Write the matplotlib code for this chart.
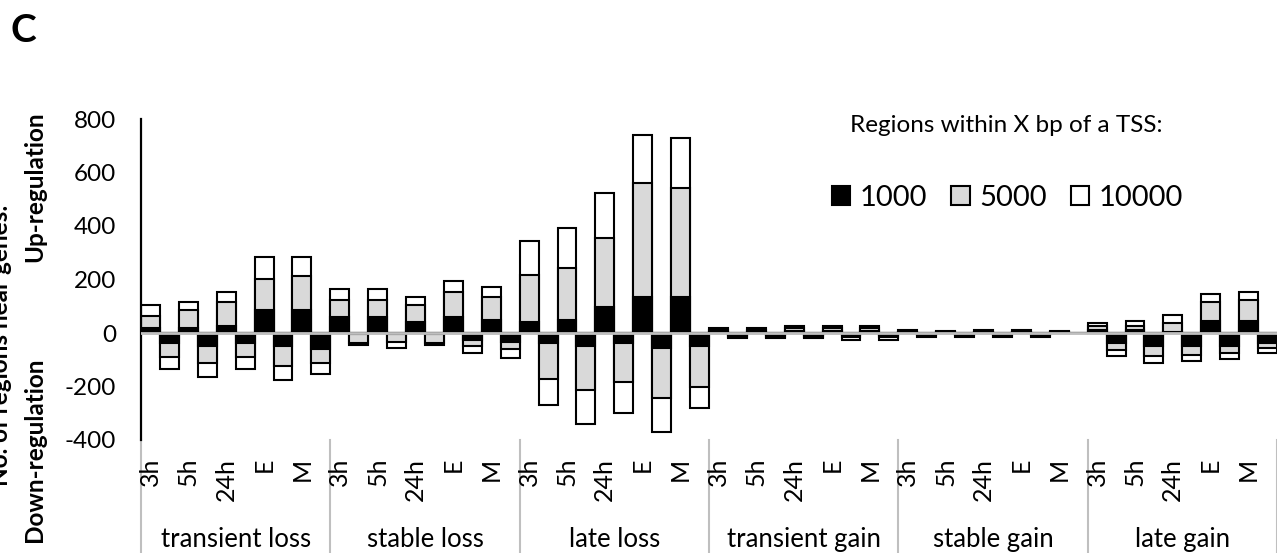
import matplotlib
matplotlib.use("Agg")
import matplotlib.pyplot as plt
import numpy as np

plt.rcParams['font.family'] = ['Lato', 'DejaVu Sans']

groups = ["transient loss", "stable loss", "late loss",
          "transient gain", "stable gain", "late gain"]
timepoints = ["3h", "5h", "24h", "E", "M"]

# regions within 1000 / 5000 / 10000 bp of a TSS, per group x timepoint
up_1000 = [17, 17, 27, 87, 87,
           58, 58, 40, 58, 50,
           40, 48, 98, 136, 136,
           4, 4, 8, 8, 8,
           2, 2, 2, 2, 2,
           12, 12, 5, 46, 46]
up_5000 = [64, 86, 115, 203, 214,
           124, 124, 104, 152, 134,
           216, 242, 354, 560, 542,
           10, 10, 18, 18, 18,
           5, 5, 5, 5, 5,
           25, 25, 37, 115, 124]
up_10000 = [106, 116, 155, 285, 285,
            165, 165, 135, 195, 173,
            343, 393, 522, 741, 729,
            18, 18, 28, 28, 28,
            10, 9, 10, 10, 9,
            37, 46, 68, 146, 155]
down_1000 = [37, 47, 37, 47, 58,
             2, 2, 2, 25, 33,
             37, 47, 37, 56, 47,
             8, 8, 8, 8, 8,
             3, 3, 3, 3, 0,
             37, 47, 47, 47, 37]
down_5000 = [91, 114, 91, 124, 114,
             37, 33, 37, 48, 58,
             171, 213, 184, 242, 201,
             14, 14, 14, 16, 16,
             8, 8, 8, 8, 0,
             62, 87, 84, 73, 55]
down_10000 = [134, 164, 134, 175, 155,
              46, 56, 46, 74, 93,
              270, 341, 300, 370, 282,
              18, 18, 18, 28, 28,
              15, 15, 15, 15, 0,
              87, 112, 104, 96, 75]

yticks = [-400, -200, 0, 200, 400, 600, 800]

W, H = 1277, 553
fig = plt.figure(figsize=(W / 100, H / 100), dpi=100)
ax = fig.add_axes([141 / W, 1 - 440 / H, 1 - 141 / W, 321 / H])

n = len(groups) * len(timepoints)
x = np.arange(n)
gray = '#d9d9d9'
bar_kw = dict(width=0.5, align='edge', edgecolor='black', linewidth=1.5)

# up bars on the left half of each slot, down bars on the right half
b10 = ax.bar(x - 0.5, up_10000, color='white', **bar_kw)
b5 = ax.bar(x - 0.5, up_5000, color=gray, **bar_kw)
b1 = ax.bar(x - 0.5, up_1000, color='black', **bar_kw)
ax.bar(x, -np.array(down_10000), color='white', **bar_kw)
ax.bar(x, -np.array(down_5000), color=gray, **bar_kw)
ax.bar(x, -np.array(down_1000), color='black', **bar_kw)

ax.axhline(0, color='#bfbfbf', linewidth=2.0, zorder=5)

ax.set_xlim(-0.5, n - 0.5)
ax.set_ylim(-400, 800)
ax.set_yticks(yticks)
ax.set_yticklabels([str(v) for v in yticks], fontsize=17.5)
ax.tick_params(axis='y', length=0, pad=18)
ax.set_xticks([])
for side in ['top', 'right', 'bottom']:
    ax.spines[side].set_visible(False)
ax.spines['left'].set_linewidth(1.6)

# two-level category axis: timepoints then group names
trans = ax.get_xaxis_transform()
for i in range(n):
    ax.text(i - 0.25, -0.056, timepoints[i % 5], rotation=90, ha='center',
            va='top', fontsize=18, transform=trans, clip_on=False)
for g, name in enumerate(groups):
    ax.text(5 * g + 2, -0.333, name, ha='center', va='baseline',
            fontsize=18.5, transform=trans, clip_on=False)
for g in range(len(groups) + 1):
    ax.plot([5 * g - 0.5] * 2, [0, -0.36], color='#bfbfbf', linewidth=1.5,
            transform=trans, clip_on=False)

fig.text(35 / W, 1 - 187 / H, "Up-regulation", rotation=90, ha='center',
         va='center', fontsize=17.5, fontweight='bold')
fig.text(35 / W, 1 - 450 / H, "Down-regulation", rotation=90, ha='center',
         va='center', fontsize=17.5, fontweight='bold')
fig.text(1 / W, 1 - 345 / H, "No. of regions near genes:", rotation=90,
         ha='center', va='center', fontsize=17.5, fontweight='bold')
fig.text(10 / W, 1 - 31 / H, "C", ha='left', va='center', fontsize=28,
         fontweight='bold')

fig.text(1006 / W, 1 - 125 / H, "Regions within X bp of a TSS:",
         ha='center', va='center', fontsize=17.5)
fig.legend([b1, b5, b10], ["1000", "5000", "10000"], ncol=3,
           loc='center left', bbox_to_anchor=(832 / W, 1 - 198 / H),
           frameon=False, fontsize=21, handlelength=0.62, handleheight=0.62,
           handletextpad=0.34, columnspacing=0.82, borderpad=0,
           borderaxespad=0)

fig.savefig("out.png", dpi=100)
